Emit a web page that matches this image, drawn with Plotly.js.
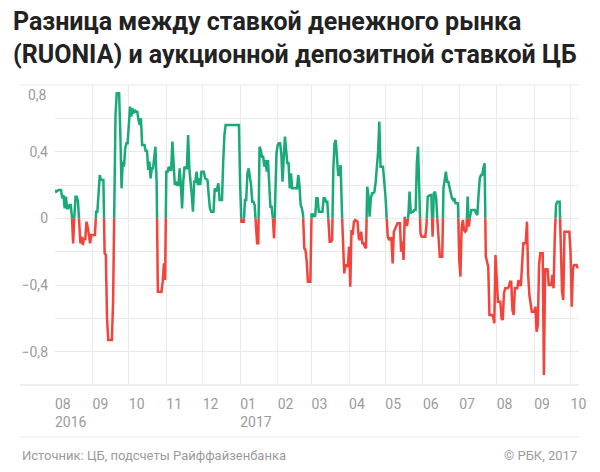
<!DOCTYPE html>
<html>
<head>
<meta charset="utf-8">
<script src="https://cdn.plot.ly/plotly-3.0.1.min.js"></script>
<style>
  html, body { margin: 0; padding: 0; background: #fff; }
  #chart { width: 600px; height: 472px; }
</style>
</head>
<body>
<div id="chart"></div>
<script>
// Day offsets from 2016-08-01 and the spread RUONIA − deposit auction rate, p.p.
const startDate = '2016-08-01';
const dayOffsets = [
  0,1,3,5,6,7,8,9,10,11,12,13,14,15,16,17,18,19,21,22,23,24,25,26,27,29,30,
  32,33,34,35,36,37,38,40,41,42,43,44,47,48,50,51,53,54,55,56,57,58,59,60,
  61,62,63,64,65,66,67,68,69,70,71,72,74,75,76,77,78,79,80,81,83,84,85,88,89,90,91,
  92,93,94,95,96,97,98,99,100,101,102,103,104,105,106,107,108,109,110,111,113,114,115,116,117,118,119,120,121,
  123,124,126,127,128,129,131,132,133,134,135,136,137,138,139,140,141,152,
  153,154,156,157,158,159,160,161,162,163,164,165,167,168,169,170,171,172,173,174,175,176,177,178,179,180,181,182,183,
  184,185,186,187,188,189,190,191,192,193,194,195,196,197,199,200,201,202,203,204,205,206,207,208,209,211,
  212,213,214,215,216,217,218,220,221,222,223,224,225,227,228,229,230,231,232,234,235,236,238,239,240,242,
  243,244,245,246,247,248,250,251,252,253,254,255,256,257,258,259,260,261,262,263,264,265,267,268,269,270,271,
  273,275,276,277,278,279,280,282,283,285,286,287,288,289,290,291,292,293,294,295,296,297,298,299,300,302,303,
  305,306,307,308,310,311,312,313,314,315,317,318,320,321,323,324,325,327,328,329,330,331,332,333,
  334,335,336,337,338,339,340,341,342,343,344,345,347,348,349,350,351,352,353,354,355,356,358,359,360,361,362,363,364,
  365,366,367,368,369,370,371,372,374,375,376,377,378,379,380,381,382,383,384,385,387,388,389,390,391,392,393,394,395,
  396,397,398,399,400,401,402,403,404,405,406,407,408,410,411,412,413,414,415,417,418,419,420,421,423,424,425,426,427,428,429,431,432
];
const spread = [
  0.17,0.16,0.17,0.17,0.12,0.14,0.06,0.13,0.06,0.06,0.08,0.08,0.01,-0.15,0.02,0.13,0.13,0.10,-0.15,-0.11,-0.16,-0.12,-0.13,-0.02,-0.05,-0.15,-0.10,
  -0.10,-0.10,0.04,0.04,0.14,0.26,0.23,0.23,-0.21,-0.22,-0.60,-0.73,-0.73,-0.50,0.62,0.75,0.75,0.50,0.18,0.34,0.31,0.42,0.45,0.45,
  0.60,0.67,0.61,0.66,0.63,0.65,0.64,0.64,0.59,0.56,0.60,0.44,0.44,0.40,0.41,0.29,0.34,0.24,0.30,0.30,0.43,0.21,-0.44,-0.44,-0.38,-0.27,-0.37,
  0.28,0.28,0.31,0.29,0.29,0.46,0.30,0.20,0.22,0.20,0.20,0.30,0.20,0.06,0.22,0.31,0.30,0.30,0.50,0.30,0.14,0.04,0.22,0.22,0.28,0.20,0.24,0.20,0.28,
  0.28,0.24,0.23,0.14,0.06,0.04,0.04,0.18,0.16,0.18,0.21,0.11,0.11,0.11,0.34,0.50,0.56,0.56,
  0.20,-0.02,-0.02,0.11,0.11,0.27,0.30,0.24,0.20,0.10,0.10,0.08,-0.15,-0.15,0.43,0.41,0.37,0.37,0.31,0.35,0.28,0.35,0.24,0.07,0.07,0.01,-0.12,0.10,0.39,
  0.44,0.45,0.45,0.39,0.22,0.37,0.49,0.41,0.33,0.33,0.18,0.27,0.18,0.18,0.18,0.18,0.26,0.20,0.08,0.06,0.02,-0.18,-0.19,-0.26,-0.38,-0.38,
  0.03,0.01,0.02,0.01,0.12,0.12,0.04,0.04,0.04,0.12,0.12,0.10,0.10,-0.14,-0.14,-0.13,0.30,0.45,0.47,0.26,0.26,0.32,-0.18,-0.33,-0.28,-0.29,
  -0.17,-0.41,-0.07,-0.10,-0.02,-0.01,-0.02,-0.12,-0.13,-0.08,-0.15,-0.15,-0.17,-0.18,0.19,0.14,0.01,0.12,0.15,0.15,0.16,0.22,0.40,0.58,0.31,0.31,0.31,
  0.14,-0.11,-0.13,-0.12,-0.12,-0.27,-0.08,-0.04,-0.03,-0.03,-0.20,-0.14,-0.25,0.01,-0.04,-0.04,0.02,0.16,0.03,0.04,0.04,0.05,0.05,0.33,0.43,-0.09,-0.11,
  -0.11,-0.11,-0.04,0.13,0.14,0.14,-0.11,0.15,0.16,0.12,-0.15,-0.23,-0.23,0.18,0.28,0.22,0.22,0.16,0.12,0.11,0.12,0.09,0.09,0.09,
  -0.24,-0.35,-0.06,-0.01,-0.07,-0.08,-0.07,0.13,-0.05,0.02,0.05,0.05,0.05,0.03,0.02,0.14,0.24,0.26,0.26,0.30,0.33,-0.23,-0.29,-0.58,-0.58,-0.58,-0.59,-0.63,-0.22,
  -0.40,-0.50,-0.50,-0.50,-0.60,-0.61,-0.45,-0.42,-0.42,-0.41,-0.38,-0.38,-0.55,-0.58,-0.42,-0.42,-0.42,-0.37,-0.40,-0.40,-0.15,-0.15,-0.15,-0.02,-0.34,-0.46,-0.52,-0.56,-0.56,
  -0.56,-0.53,-0.68,-0.64,-0.28,-0.21,-0.21,-0.21,-0.94,-0.30,-0.32,-0.30,-0.40,-0.40,-0.34,-0.42,-0.11,0.08,0.10,0.10,-0.18,-0.44,-0.49,-0.08,-0.08,-0.08,-0.08,-0.20,-0.53,-0.30,-0.28,-0.28,-0.30
];

const monthTicks = ['2016-08-01','2016-09-01','2016-10-01','2016-11-01','2016-12-01','2017-01-01','2017-02-01',
  '2017-03-01','2017-04-01','2017-05-01','2017-06-01','2017-07-01','2017-08-01','2017-09-01','2017-10-01'];
const monthLabels = ['08<br>2016','09','10','11','12','01<br>2017','02','03','04','05','06','07','08','09','10'];
const yTickVals = [-1,-0.8,-0.6,-0.4,-0.2,0,0.2,0.4,0.6,0.8];
const yTickText = ['','−0,8','','−0,4','','0','','0,4','',''];
const titleText = 'Разница между ставкой денежного рынка<br>(RUONIA) и аукционной депозитной ставкой ЦБ';
const sourceText = 'Источник: ЦБ, подсчеты Райффайзенбанка';
const creditText = '© РБК, 2017';

const GREEN = '#1aa979';
const RED = '#f4433b';
const GRID = '#e9e9e9';
const FONT = 'Roboto, "Noto Sans", sans-serif';

// convert offsets to timestamps
const t0 = Date.parse(startDate + 'T00:00:00Z');
const DAY = 86400000;
const xs = dayOffsets.map(d => t0 + d * DAY);

// split into positive (green) and negative (red) parts, joined at zero crossings
const pos = {x: [], y: []}, neg = {x: [], y: []};
for (let i = 0; i < xs.length; i++) {
  const t = xs[i], v = spread[i];
  if (i > 0) {
    const tp = xs[i - 1], vp = spread[i - 1];
    if ((vp < 0) !== (v < 0)) {
      const tc = tp + (t - tp) * (vp / (vp - v));
      if (vp >= 0) { // leaving positive
        pos.x.push(tc); pos.y.push(0); pos.x.push(tc); pos.y.push(null);
        neg.x.push(tc); neg.y.push(0);
      } else {       // leaving negative
        neg.x.push(tc); neg.y.push(0); neg.x.push(tc); neg.y.push(null);
        pos.x.push(tc); pos.y.push(0);
      }
    }
  }
  if (v >= 0) { pos.x.push(t); pos.y.push(v); }
  else { neg.x.push(t); neg.y.push(v); }
}

const traces = [
  {x: neg.x, y: neg.y, type: 'scatter', mode: 'lines', connectgaps: false,
   line: {color: RED, width: 2.5, shape: 'linear'}, hoverinfo: 'skip'},
  {x: pos.x, y: pos.y, type: 'scatter', mode: 'lines', connectgaps: false,
   line: {color: GREEN, width: 2.5, shape: 'linear'}, hoverinfo: 'skip'}
];

const plotL = 55, plotR = 21, plotT = 85, plotB = 87;
const plotW = 600 - plotL - plotR, plotH = 472 - plotT - plotB;
const px2paperX = px => (px - plotL) / plotW;
const px2paperY = py => (472 - plotB - py) / plotH;

const layout = {
  width: 600, height: 472,
  margin: {l: plotL, r: plotR, t: plotT, b: plotB, pad: 0},
  paper_bgcolor: '#ffffff', plot_bgcolor: '#ffffff',
  showlegend: false,
  font: {family: FONT, color: '#9b9b9b', size: 14},
  xaxis: {
    type: 'date',
    range: [t0, t0 + 433 * DAY],
    tickmode: 'array', tickvals: monthTicks, ticktext: monthLabels,
    showgrid: true, gridcolor: GRID, gridwidth: 1,
    zeroline: false, showline: false, ticks: '',
    ticklabelposition: 'outside right',
    ticklabelstandoff: 9,
    tickfont: {family: FONT, size: 14, color: '#9b9b9b'},
    fixedrange: true
  },
  yaxis: {
    range: [-1, 0.8],
    tickmode: 'array', tickvals: yTickVals, ticktext: yTickText,
    showgrid: true, gridcolor: GRID, gridwidth: 1,
    zeroline: false, showline: false, ticks: '',
    ticklabelstandoff: 6,
    tickfont: {family: FONT, size: 14, color: '#9b9b9b'},
    fixedrange: true
  },
  shapes: [
    {type: 'line', xref: 'paper', yref: 'paper', x0: px2paperX(20), x1: 1, y0: 1, y1: 1,
     line: {color: GRID, width: 1}, layer: 'below'},
    {type: 'line', xref: 'paper', yref: 'paper', x0: px2paperX(20), x1: 1, y0: 0, y1: 0,
     line: {color: GRID, width: 1.5}, layer: 'below'},
    {type: 'line', xref: 'paper', yref: 'paper', x0: px2paperX(20), x1: 1, y0: px2paperY(437), y1: px2paperY(437),
     line: {color: GRID, width: 1}, layer: 'below'}
  ],
  annotations: [
    {text: titleText, xref: 'paper', yref: 'paper', x: px2paperX(11), y: px2paperY(5),
     xanchor: 'left', yanchor: 'top', align: 'left', showarrow: false,
     font: {family: FONT, size: 25, color: '#222222', weight: 700}},
    {text: '0,8', xref: 'paper', yref: 'y', x: 0, y: 0.8, xanchor: 'right', yanchor: 'middle',
     xshift: -6, yshift: -10, showarrow: false, font: {family: FONT, size: 14, color: '#9b9b9b'}},
    {text: sourceText, xref: 'paper', yref: 'paper',
     x: px2paperX(20), y: px2paperY(455), xanchor: 'left', yanchor: 'middle', showarrow: false,
     font: {family: FONT, size: 13, color: '#9b9b9b'}},
    {text: creditText, xref: 'paper', yref: 'paper',
     x: 1, y: px2paperY(455), xanchor: 'right', yanchor: 'middle', showarrow: false,
     font: {family: FONT, size: 13, color: '#9b9b9b'}}
  ]
};

Plotly.newPlot('chart', traces, layout, {displayModeBar: false, staticPlot: true});
</script>
</body>
</html>
